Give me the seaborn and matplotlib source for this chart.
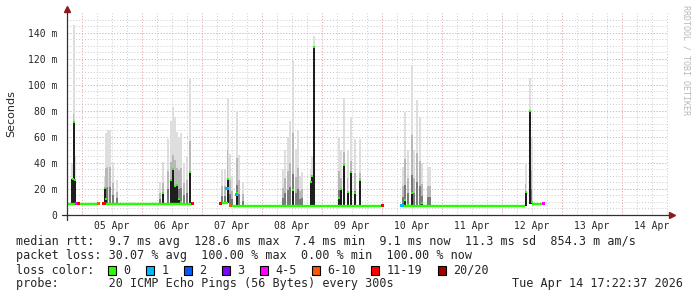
import matplotlib
matplotlib.use("Agg")
import matplotlib.pyplot as plt
from matplotlib.patches import Rectangle
import numpy as np
import pandas as pd
import seaborn as sns

# ---------------- data (hours since 04 Apr 00:00, values in ms) ----------------
day_labels = ["05 Apr", "06 Apr", "07 Apr", "08 Apr", "09 Apr",
              "10 Apr", "11 Apr", "12 Apr", "13 Apr", "14 Apr"]
y_ticks = [0, 20, 40, 60, 80, 100, 120, 140]
y_tick_labels = ["0", "20 m", "40 m", "60 m", "80 m", "100 m", "120 m", "140 m"]

# median rtt baseline segments
seg_start = [18.0, 33.6, 79.5, 83.2, 152.0, 203.9]
seg_end = [30.5, 68.1, 82.4, 144.1, 201.2, 208.5]
seg_level = [8.8, 8.8, 9.0, 7.2, 7.2, 8.7]

# smoke columns: time, median of that step, max ping of that step
smoke_hour = [20.2, 20.6, 21.0,
              33.0, 33.6, 34.2, 35.2, 36.4, 38.0,
              55.2, 56.4, 58.4, 59.6, 60.4, 61.2, 62.0, 62.8, 63.6, 64.8, 66.0, 67.2,
              80.0, 81.2, 82.2, 83.2, 84.0, 85.9, 86.8, 88.4,
              104.4, 105.2, 106.4, 107.2, 108.4, 109.6, 110.4, 111.2, 112.0,
              115.4, 116.0, 116.6,
              126.8, 127.6, 128.8, 130.2, 131.6, 133.2, 135.2,
              152.4, 153.2, 154.4, 156.0, 156.8, 158.0, 159.2, 160.0, 162.4, 163.2,
              201.4, 203.2, 203.8]
smoke_median = [28, 71, 27,
                20.7, 12, 9, 9, 9, 9,
                9, 17, 9, 27, 35, 22, 23, 12, 10, 9, 9, 33,
                9, 9, 28, 7.2, 7.2, 17, 7.2, 7.2,
                7.2, 7.2, 7.2, 7.2, 19, 7.2, 7.2, 7.2, 7.2,
                25, 30, 128.6,
                13, 20, 38, 18, 33, 17, 27,
                8, 11.5, 8, 16.7, 7.2, 7.2, 7.2, 9.5, 7.2, 7.2,
                18, 80, 10]
smoke_max = [40, 146, 45,
             30, 63, 65, 65, 40, 27,
             25, 41, 58, 72, 83, 75, 64, 60, 63, 40, 45, 105,
             35, 35, 90, 47, 30, 80, 46, 25,
             35, 50, 60, 72, 118, 51, 65, 30, 33,
             35, 45, 137,
             60, 50, 90, 50, 75, 58, 58,
             37, 79, 50, 115, 50, 88, 75, 40, 37, 37,
             40, 105, 60]

# median marks with packet loss
loss_hour = [21.9, 22.6, 30.5, 32.8, 68.1, 79.5, 83.3, 82.0, 85.9, 144.1, 152.0, 208.5]
loss_value = [8.8, 8.8, 8.8, 9.0, 8.8, 9.0, 7.2, 20.5, 16.0, 7.2, 7.2, 8.7]
loss_class = ["4-5", "11-19", "6-10", "11-19", "11-19", "11-19", "6-10",
              "1", "1", "11-19", "1", "4-5"]

legend_labels = ["0", "1", "2", "3", "4-5", "6-10", "11-19", "20/20"]
legend_colors = ["#26ff00", "#00b8ff", "#0059ff", "#7e00ff",
                 "#ff00ff", "#ff5500", "#ff0000", "#a10000"]

# ---------------- figure ----------------
W, H = 697, 297
sns.set_theme(style="white")
plt.rcParams['font.family'] = ['DejaVu Sans Mono', 'DejaVu Sans']

fig = plt.figure(figsize=(W / 100, H / 100), dpi=100)
fig.patch.set_facecolor("white")
ax = fig.add_axes([67 / W, (H - 215) / H, 601 / W, 202 / H])
ax.set_facecolor("white")
X0, X1, Y0, Y1 = 18.0, 258.4, 0, 155
ax.set_xlim(X0, X1)
ax.set_ylim(Y0, Y1)

# grid
for h in np.arange(24, X1, 6):
    ax.axvline(h, color="#cccccc", lw=0.7, ls=(0, (1, 2)), zorder=0)
for v in np.arange(5, Y1, 5):
    ax.axhline(v, color="#cccccc", lw=0.7, ls=(0, (1, 2)), zorder=0)
for h in np.arange(24, X1, 24):
    ax.axvline(h, color="#eeaaaa", lw=0.7, ls=(0, (1, 2)), zorder=0.5)
for v in y_ticks[1:]:
    ax.axhline(v, color="#eeaaaa", lw=0.7, ls=(0, (1, 2)), zorder=0.5)

green = legend_colors[0]


def base_of(h):
    best, dist = None, 1e9
    for s, e, lv in zip(seg_start, seg_end, seg_level):
        d = 0 if s <= h <= e else min(abs(h - s), abs(h - e))
        if d < dist:
            best, dist = lv, d
    return best


smoke = pd.DataFrame({"h": smoke_hour, "med": smoke_median, "mx": smoke_max})
smoke["base"] = [base_of(h) for h in smoke["h"]]
rng_ = smoke["mx"] - smoke["base"]
ax.bar(smoke["h"], rng_, bottom=smoke["base"], width=0.8, color="#dedede", lw=0, zorder=1)
ax.bar(smoke["h"], rng_ * 0.5, bottom=smoke["base"], width=0.6, color="#b8b8b8", lw=0, zorder=1.1)
ax.bar(smoke["h"], rng_ * 0.22, bottom=smoke["base"], width=0.6, color="#7a7a7a", lw=0, zorder=1.2)
dark = smoke[smoke["med"] > smoke["base"] + 0.5]
ax.bar(dark["h"], dark["med"] - dark["base"], bottom=dark["base"], width=0.8,
       color="#1e1e1e", lw=0, zorder=1.3)

# baseline median line
rows = []
for i, (s, e, lv) in enumerate(zip(seg_start, seg_end, seg_level)):
    rows.append({"seg": i, "h": s, "ms": lv})
    rows.append({"seg": i, "h": e, "ms": lv})
base_df = pd.DataFrame(rows)
sns.lineplot(data=base_df, x="h", y="ms", units="seg", estimator=None,
             color=green, lw=1.7, ax=ax, zorder=3, solid_capstyle="butt")

# median marks at spikes
sns.scatterplot(x=dark["h"], y=dark["med"], marker="s", s=4, color=green,
                linewidth=0, ax=ax, zorder=4)

# loss coloured marks
pal = dict(zip(legend_labels, legend_colors))
loss_df = pd.DataFrame({"h": loss_hour, "ms": loss_value, "loss": loss_class})
sns.scatterplot(data=loss_df, x="h", y="ms", hue="loss", palette=pal, marker="s",
                s=5, linewidth=0, ax=ax, zorder=5, legend=False)

# axes styling
for sp in ax.spines.values():
    sp.set_visible(False)
ax.plot([X0, X0], [-3.5, Y1 + 1.5], color="#303030", lw=0.9, clip_on=False, zorder=6)
ax.plot([X0 - 2, X1 + 1], [0, 0], color="#303030", lw=0.9, clip_on=False, zorder=6)
ax.plot([X0], [Y1 + 3.2], marker="^", ms=4.5, color="#8b1a1a", clip_on=False, zorder=7)
ax.plot([X1 + 1.4], [0], marker=">", ms=4.5, color="#8b1a1a", clip_on=False, zorder=7)

ax.set_xticks([24 * (i + 1) + 12 for i in range(len(day_labels))])
ax.set_xticklabels(day_labels, fontsize=7)
ax.set_yticks(y_ticks)
ax.set_yticklabels(y_tick_labels, fontsize=7)
ax.set_yticks(np.arange(0, Y1, 5), minor=True)
ax.tick_params(axis="x", length=0, pad=4)
ax.tick_params(axis="y", which="major", length=0, pad=7)
ax.tick_params(axis="y", which="minor", length=3, direction="inout", color="#909090", width=0.6)
ax.set_xlabel("")
ax.set_ylabel("")

fig.text(11 / W, 1 - 113.5 / H, "Seconds", rotation=90, ha="center", va="center",
         fontsize=8, family="DejaVu Sans")
fig.text(686 / W, 1 - 5 / H, "RRDTOOL / TOBI OETIKER", rotation=270, ha="center",
         va="top", fontsize=6, color="#b8b8b8")

# legend text block
fs = 8.5
def px(x, y):
    return x / W, 1 - y / H

fig.text(*px(16, 241), "median rtt:  9.7 ms avg  128.6 ms max  7.4 ms min  9.1 ms now  11.3 ms sd  854.3 m am/s",
         fontsize=fs, va="center", ha="left")
fig.text(*px(16, 256), "packet loss: 30.07 % avg  100.00 % max  0.00 % min  100.00 % now",
         fontsize=fs, va="center", ha="left")
fig.text(*px(16, 270), "loss color:", fontsize=fs, va="center", ha="left")
cw = 7.15
xs = 108.4
for lab, col in zip(legend_labels, legend_colors):
    fig.add_artist(Rectangle(px(xs, 274.5), 8 / W, 9 / H, transform=fig.transFigure,
                             facecolor=col, edgecolor="black", lw=0.8))
    fig.text(*px(xs + 15.2, 270), lab, fontsize=fs, va="center", ha="left")
    xs = xs + 15.2 + cw * len(lab) + 15.5
fig.text(*px(16, 284), "probe:       20 ICMP Echo Pings (56 Bytes) every 300s",
         fontsize=fs, va="center", ha="left")
fig.text(*px(683, 284), "Tue Apr 14 17:22:37 2026", fontsize=fs, va="center", ha="right")

fig.savefig("out.png", dpi=100, facecolor="white")
